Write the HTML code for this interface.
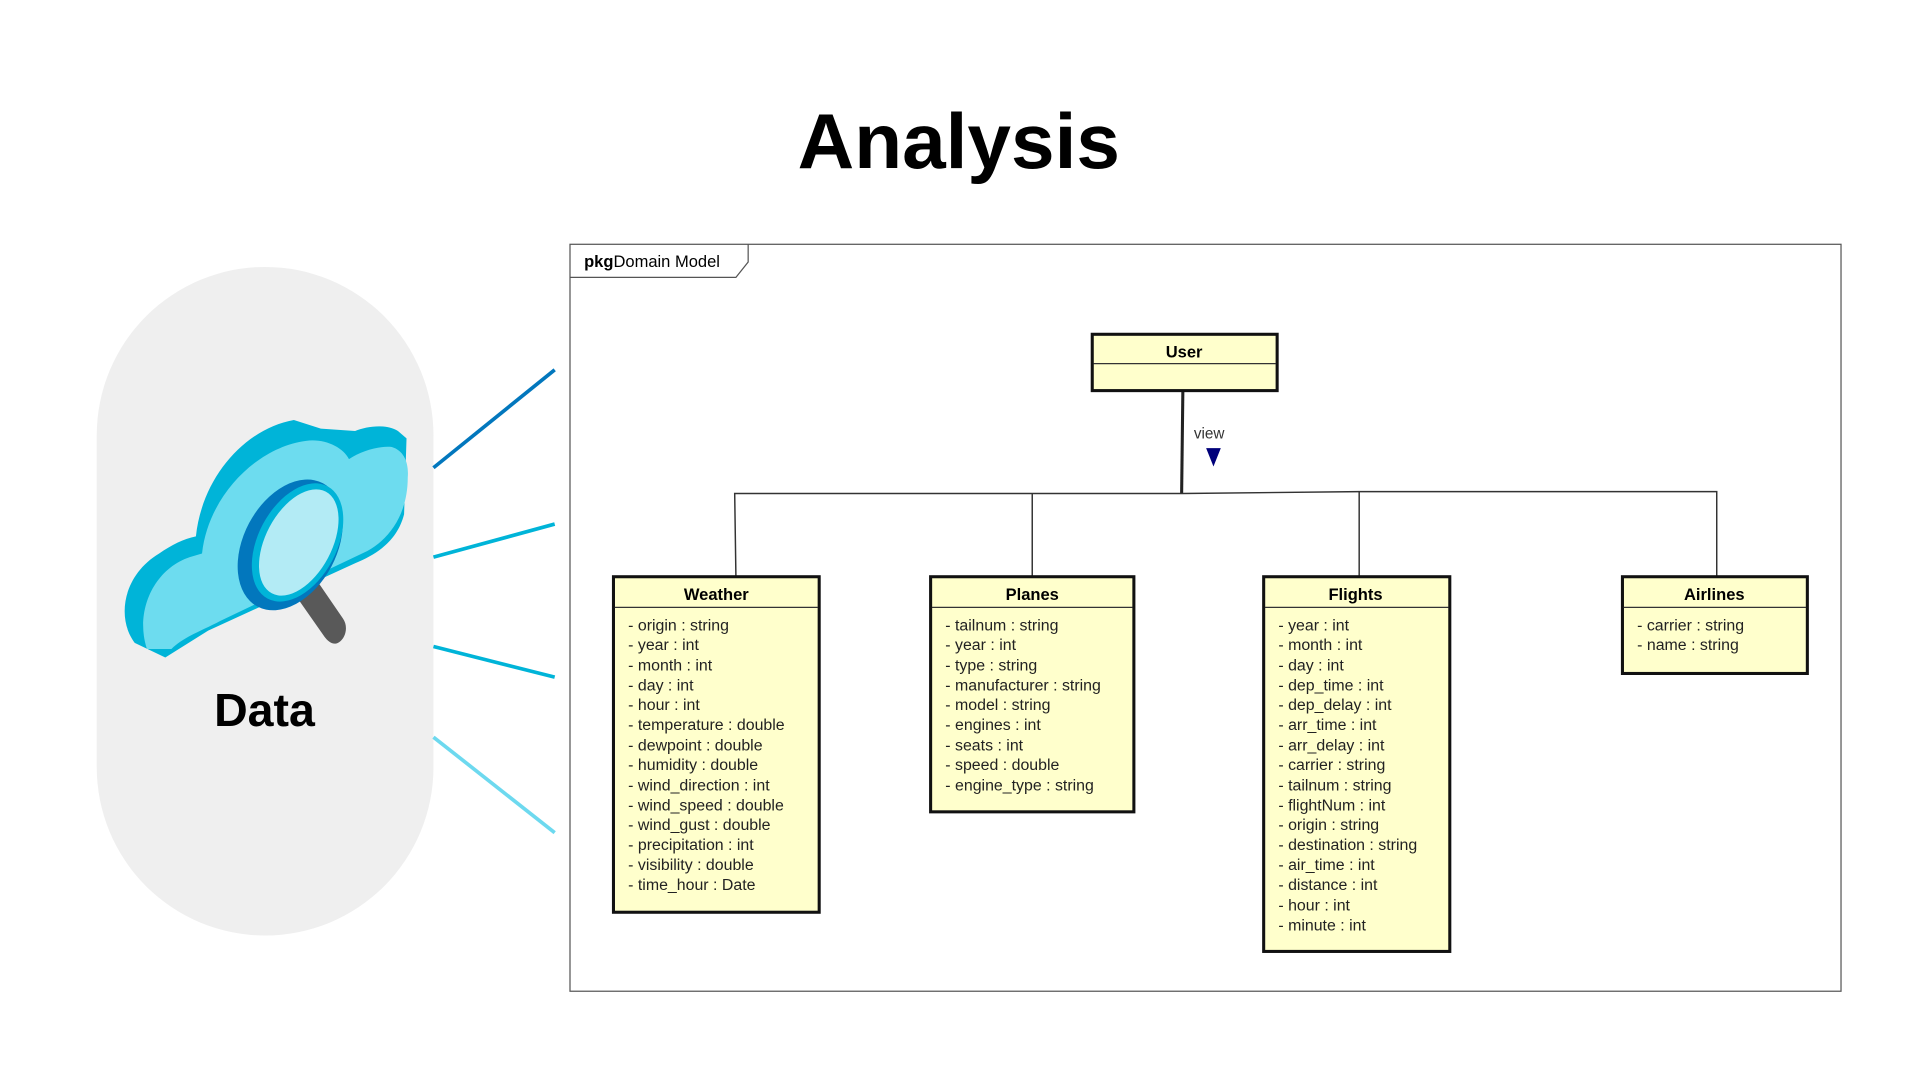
<!DOCTYPE html>
<html><head><meta charset="utf-8"><style>
html,body{margin:0;padding:0;background:#fff;width:1920px;height:1080px;overflow:hidden}
svg{display:block}
text{font-family:"Liberation Sans",Arial,sans-serif}
.h{font-weight:bold;font-size:13.5px;text-anchor:middle}
.a{font-size:13px;fill:#222}
</style></head><body>
<svg width="1920" height="1080" viewBox="0 0 1568 882" xmlns="http://www.w3.org/2000/svg">
<rect width="1568" height="882" fill="#fff"/>
<text x="783" y="137" font-size="64" font-weight="bold" text-anchor="middle">Analysis</text>
<rect x="79" y="218" width="275" height="546" rx="137.5" ry="137.5" fill="#efefef"/>
<line x1="354" y1="382" x2="453" y2="302" stroke="#0277bd" stroke-width="3"/>
<line x1="354" y1="455" x2="453" y2="428" stroke="#00b4d8" stroke-width="3"/>
<line x1="354" y1="528" x2="453" y2="553" stroke="#00b4d8" stroke-width="3"/>
<line x1="354" y1="602" x2="453" y2="680" stroke="#6dd9ef" stroke-width="3"/>
<g>
<path d="M110,525 C95,505 100,470 130,452 C140,445 150,440 160,438 C165,390 200,350 240,343 L262,350 L290,352 C300,348 315,346 325,352 L332,358 L330,420 C325,440 310,452 290,460 L170,515 L135,537 Z" fill="#00b4d8"/>
<path d="M120,530 C110,500 125,465 155,455 L165,452 C170,405 210,365 250,360 C265,358 280,365 285,375 C295,368 310,364 320,365 C330,368 334,378 333,390 C333,420 318,440 300,450 L180,507 C165,515 150,520 140,530 Z" fill="#6ddcef"/>
<path d="M256,470 L280,505 C285,512 282,522 276,525 C272,527 268,524 265,520 L244,490 Z" fill="#595959"/>
<ellipse cx="237" cy="445" rx="38" ry="57" transform="rotate(28 237 445)" fill="#0277bd"/>
<ellipse cx="243" cy="443" rx="32" ry="52" transform="rotate(28 243 443)" fill="#00b4d8"/>
<ellipse cx="244" cy="443" rx="27" ry="47" transform="rotate(28 244 443)" fill="#b3ebf5"/>
</g>
<text x="216" y="593" font-size="38" font-weight="bold" text-anchor="middle">Data</text>
<rect x="465.5" y="199.5" width="1038" height="610" fill="none" stroke="#555" stroke-width="1"/>
<path d="M465.5,226.5 L601,226.5 L611,214 L611,199.5" fill="none" stroke="#555" stroke-width="1"/>
<text x="477" y="218" font-size="13.5"><tspan font-weight="bold">pkg</tspan>Domain Model</text>
<line x1="966" y1="319" x2="965" y2="403" stroke="#222" stroke-width="2.5"/>
<polyline points="601,471 600,403 966,403 1110,401.5 1402,401.5 1402,471" fill="none" stroke="#333" stroke-width="1.2"/>
<polyline points="843,403 843,471" fill="none" stroke="#333" stroke-width="1.2"/>
<polyline points="1110,401.5 1110,471" fill="none" stroke="#333" stroke-width="1.2"/>
<text x="975" y="358" font-size="12.5" fill="#333">view</text>
<polygon points="985,366 997,366 991,381" fill="#00007a"/>
<rect x="892" y="273" width="151" height="46" fill="#ffffcc" stroke="#111" stroke-width="2.5"/>
<line x1="893" y1="297" x2="1042" y2="297" stroke="#333" stroke-width="1"/>
<text class="h" x="967" y="292">User</text>
<rect x="501" y="471" width="168" height="274" fill="#ffffcc" stroke="#111" stroke-width="2.5"/>
<line x1="502" y1="496" x2="668" y2="496" stroke="#333" stroke-width="1"/>
<text class="h" x="585" y="490">Weather</text>
<text class="a" x="513" y="515">- origin : string</text>
<text class="a" x="513" y="531">- year : int</text>
<text class="a" x="513" y="547.5">- month : int</text>
<text class="a" x="513" y="564">- day : int</text>
<text class="a" x="513" y="580">- hour : int</text>
<text class="a" x="513" y="596">- temperature : double</text>
<text class="a" x="513" y="613">- dewpoint : double</text>
<text class="a" x="513" y="629">- humidity : double</text>
<text class="a" x="513" y="645.5">- wind_direction : int</text>
<text class="a" x="513" y="662">- wind_speed : double</text>
<text class="a" x="513" y="678">- wind_gust : double</text>
<text class="a" x="513" y="694">- precipitation : int</text>
<text class="a" x="513" y="710.5">- visibility : double</text>
<text class="a" x="513" y="727">- time_hour : Date</text>
<rect x="760" y="471" width="166" height="192" fill="#ffffcc" stroke="#111" stroke-width="2.5"/>
<line x1="761" y1="496" x2="925" y2="496" stroke="#333" stroke-width="1"/>
<text class="h" x="843" y="490">Planes</text>
<text class="a" x="772" y="515">- tailnum : string</text>
<text class="a" x="772" y="531">- year : int</text>
<text class="a" x="772" y="547.5">- type : string</text>
<text class="a" x="772" y="564">- manufacturer : string</text>
<text class="a" x="772" y="580">- model : string</text>
<text class="a" x="772" y="596">- engines : int</text>
<text class="a" x="772" y="613">- seats : int</text>
<text class="a" x="772" y="629">- speed : double</text>
<text class="a" x="772" y="645.5">- engine_type : string</text>
<rect x="1032" y="471" width="152" height="306" fill="#ffffcc" stroke="#111" stroke-width="2.5"/>
<line x1="1033" y1="496" x2="1183" y2="496" stroke="#333" stroke-width="1"/>
<text class="h" x="1107" y="490">Flights</text>
<text class="a" x="1044" y="515">- year : int</text>
<text class="a" x="1044" y="531">- month : int</text>
<text class="a" x="1044" y="547.5">- day : int</text>
<text class="a" x="1044" y="564">- dep_time : int</text>
<text class="a" x="1044" y="580">- dep_delay : int</text>
<text class="a" x="1044" y="596">- arr_time : int</text>
<text class="a" x="1044" y="613">- arr_delay : int</text>
<text class="a" x="1044" y="629">- carrier : string</text>
<text class="a" x="1044" y="645.5">- tailnum : string</text>
<text class="a" x="1044" y="662">- flightNum : int</text>
<text class="a" x="1044" y="678">- origin : string</text>
<text class="a" x="1044" y="694">- destination : string</text>
<text class="a" x="1044" y="710.5">- air_time : int</text>
<text class="a" x="1044" y="727">- distance : int</text>
<text class="a" x="1044" y="743.5">- hour : int</text>
<text class="a" x="1044" y="760">- minute : int</text>
<rect x="1325" y="471" width="151" height="79" fill="#ffffcc" stroke="#111" stroke-width="2.5"/>
<line x1="1326" y1="496" x2="1475" y2="496" stroke="#333" stroke-width="1"/>
<text class="h" x="1400" y="490">Airlines</text>
<text class="a" x="1337" y="515">- carrier : string</text>
<text class="a" x="1337" y="531">- name : string</text>
</svg>
</body></html>
